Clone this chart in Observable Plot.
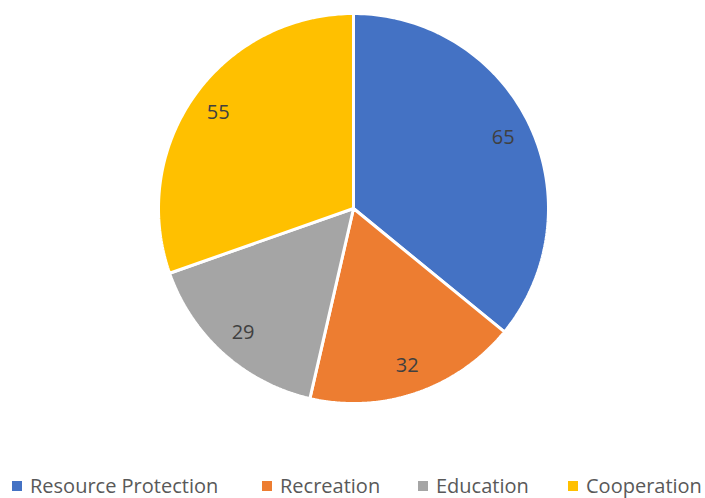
<!DOCTYPE html>
<html><head><meta charset="utf-8">
<script src="https://cdn.jsdelivr.net/npm/d3@7"></script>
<script src="https://cdn.jsdelivr.net/npm/@observablehq/plot@0.6"></script>
<style>
body{margin:0;background:#fff;font-family:"Open Sans",sans-serif;}
#wrap{position:relative;width:705px;height:498px;}
.lg{position:absolute;top:476px;font-size:20px;color:#595959;white-space:nowrap;line-height:20px;}
.lg span.sw{display:inline-block;width:10px;height:10px;margin-right:8px;vertical-align:2px;}
</style></head>
<body><div id="wrap"></div>
<script>
const categories = ["Resource Protection","Recreation","Education","Cooperation"];
const values = [65, 32, 29, 55];
const colors = ["#4472C4","#ED7D31","#A5A5A5","#FFC000"];
const legendX = [12, 262, 418, 568];

const W = 705, H = 416, cx = 353, cy = 208, R = 195;
const arcs = d3.pie().sort(null).value(d => d.v)(categories.map((c,i)=>({c, v: values[i]})));
const pts = [];
arcs.forEach(a => {
  pts.push({cat: a.data.c, x: 0, y: 0});
  const n = 120;
  for (let k = 0; k <= n; k++) {
    const t = a.startAngle + (a.endAngle - a.startAngle) * k / n;
    pts.push({cat: a.data.c, x: Math.sin(t), y: Math.cos(t)});
  }
});
const labels = arcs.map(a => {
  const m = (a.startAngle + a.endAngle) / 2;
  return {cat: a.data.c, v: a.data.v, x: 0.85*Math.sin(m), y: 0.85*Math.cos(m)};
});

const chart = Plot.plot({
  width: W, height: H,
  margin: 0,
  x: {domain: [-cx/R, (W-cx)/R], axis: null},
  y: {domain: [-(H-cy)/R, cy/R], axis: null},
  color: {domain: categories, range: colors},
  marks: [
    Plot.line(pts, {x: "x", y: "y", z: "cat", fill: "cat", stroke: "white", strokeWidth: 3, curve: "linear-closed", strokeLinejoin: "miter"}),
    Plot.text(labels, {x: "x", y: "y", text: d => String(d.v), fill: "#404040", fontSize: 20, fontFamily: "Open Sans"})
  ]
});
const wrap = document.getElementById("wrap");
wrap.appendChild(chart);
categories.forEach((c,i) => {
  const d = document.createElement("div");
  d.className = "lg";
  d.style.left = legendX[i] + "px";
  d.innerHTML = `<span class="sw" style="background:${colors[i]}"></span>${c}`;
  wrap.appendChild(d);
});
</script></body></html>
